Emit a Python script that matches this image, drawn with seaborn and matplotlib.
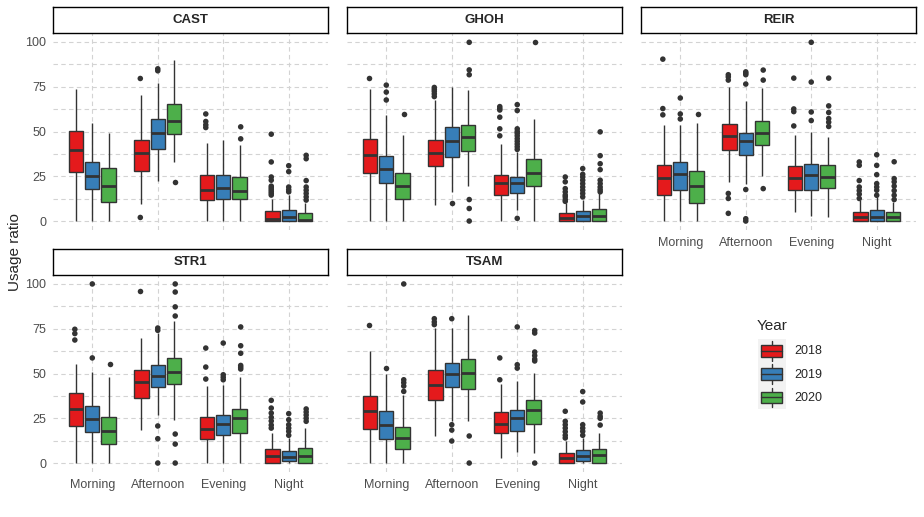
import matplotlib
matplotlib.use('Agg')
import matplotlib.pyplot as plt
import pandas as pd
import seaborn as sns
from matplotlib.legend_handler import HandlerBase
from matplotlib.lines import Line2D
from matplotlib.patches import Patch, Rectangle

times = ['Morning', 'Afternoon', 'Evening', 'Night']
years = ['2018', '2019', '2020']
colors = ['#E41A1C', '#377EB8', '#4DAF4A']

# box stats per (time, year): (whisker low, q1, median, q3, whisker high)
cast_stats = [
    (0, 27.4, 39.6, 50.4, 73.9), (0, 18.1, 25.2, 33.1, 55.0), (0, 10.9, 19.6, 29.8, 49.1),
    (9.6, 28.1, 38.0, 45.4, 70.6), (22.2, 40.4, 49.1, 57.0, 77.2), (33.0, 48.7, 55.7, 65.2, 90.0),
    (0, 12.0, 17.4, 25.9, 43.7), (0, 12.4, 18.5, 25.9, 45.0), (0, 12.4, 16.9, 24.8, 42.2),
    (0, 0, 1.3, 5.4, 12.2), (0, 0, 2.4, 5.9, 14.8), (0, 0, 0.6, 4.4, 10.0),
]
cast_out = [
    [], [], [],
    [79.6, 2.0], [85.0, 83.9], [21.9],
    [59.8, 55.6, 53.7, 52.2], [], [52.6, 45.9],
    [48.5, 33.0, 24.6, 22.8, 19.5, 18.5, 17.5, 16.5, 15.5, 14.5],
    [30.9, 27.6, 19.0, 17.5, 16.3],
    [36.7, 34.8, 22.6, 19.0, 17.2, 15.4, 13.5, 11.7],
]

ghoh_stats = [
    (0, 27.0, 36.9, 45.9, 73.9), (0, 21.5, 28.9, 36.5, 59.3), (0, 12.4, 19.6, 26.9, 47.8),
    (9.1, 30.9, 37.8, 45.4, 67.6), (16.1, 35.9, 44.6, 52.6, 75.0), (19.6, 39.1, 46.9, 53.7, 73.1),
    (0, 14.8, 21.3, 25.9, 42.8), (6.1, 15.4, 21.3, 24.6, 38.5), (0, 19.8, 26.9, 34.6, 57.0),
    (0, 0, 1.5, 4.3, 9.8), (0, 0, 3.0, 5.4, 12.0), (0, 0, 3.0, 6.5, 15.4),
]
ghoh_out = [
    [79.8], [75.9, 72.0, 67.6], [59.8],
    [74.6, 73.5, 72.4, 71.0, 69.5], [9.8], [99.8, 84.4, 81.7, 12.0, 7.0, 0.0],
    [63.9, 62.8, 62.0, 58.0, 51.5, 47.6],
    [65.0, 61.7, 51.5, 50.0, 49.0, 47.6, 46.0, 44.5, 43.0, 41.5, 40.0, 1.5],
    [99.8],
    [24.6, 21.9, 18.1, 16.3, 14.5, 13.5, 12.0, 11.0],
    [29.3, 26.1, 24.6, 22.8, 20.9, 19.0, 17.2, 15.4, 13.5],
    [49.8, 36.5, 32.0, 28.7, 22.8, 20.9, 19.0, 17.5, 16.3],
]

reir_stats = [
    (0, 14.8, 23.9, 31.5, 53.9), (0, 17.6, 26.3, 33.1, 53.9), (0, 9.8, 19.6, 28.1, 54.8),
    (21.7, 39.8, 47.4, 54.3, 75.0), (20.6, 37.0, 44.6, 49.3, 67.2), (25.2, 42.6, 49.4, 55.9, 74.4),
    (5.2, 17.6, 23.9, 30.9, 47.8), (3.0, 17.6, 25.7, 32.0, 49.6), (2.4, 18.7, 24.6, 31.5, 47.2),
    (0, 0, 2.4, 4.8, 11.7), (0, 0, 2.4, 5.9, 13.5), (0, 0, 2.4, 4.8, 10.7),
]
reir_out = [
    [90.4, 62.8, 59.3], [68.7, 59.8, 57.0], [59.8],
    [81.7, 80.5, 78.7, 15.4, 12.6, 4.3], [83.3, 82.5, 81.7, 76.5, 17.6, 1.3, 0.0], [84.3, 78.7, 18.1],
    [79.8, 62.6, 61.1, 53.1], [99.8, 77.6, 60.9, 56.1], [79.8, 64.3, 60.6, 57.2, 55.2, 52.8],
    [33.0, 31.1, 22.6, 19.0, 17.0, 15.0, 12.6],
    [37.0, 31.1, 25.9, 20.9, 19.0, 17.2, 14.4],
    [33.1, 23.7, 21.9, 19.5, 17.0, 14.4, 12.0],
]

str1_stats = [
    (0, 20.5, 30.0, 39.1, 55.5), (0, 17.3, 24.4, 31.7, 51.0), (0, 10.6, 17.7, 25.5, 48.0),
    (18.2, 36.3, 45.1, 51.8, 69.8), (27.0, 42.5, 48.4, 54.6, 72.6), (24.0, 44.1, 50.7, 58.5, 79.5),
    (0, 13.4, 19.0, 25.5, 43.2), (0, 15.5, 22.0, 26.6, 43.8), (0, 16.6, 25.0, 30.2, 48.0),
    (0, 0, 3.9, 7.8, 16.8), (0, 1.3, 3.4, 6.7, 14.0), (0, 0, 3.9, 8.4, 19.5),
]
str1_out = [
    [74.7, 72.3, 68.7], [100.0, 58.7], [55.5],
    [96.1], [75.4, 74.1, 20.7, 13.6, 0.0], [100.0, 95.5, 87.2, 82.1, 16.2, 10.6, 0.0],
    [64.2, 53.6, 46.9], [67.0, 49.3, 47.9, 46.5], [76.0, 65.5, 61.3, 54.5, 53.5, 52.5],
    [35.0, 30.7, 27.9, 25.5, 23.5, 21.2, 19.5],
    [27.6, 24.2, 21.4, 19.5, 17.7, 15.5],
    [30.2, 28.5, 26.8, 25.0, 23.3],
]

tsam_stats = [
    (0, 19.0, 28.9, 37.4, 62.8), (0, 13.4, 21.4, 29.0, 49.9), (0, 7.8, 13.8, 19.9, 38.0),
    (14.9, 35.2, 43.4, 52.0, 75.4), (23.6, 42.5, 49.5, 55.9, 75.4), (23.3, 41.3, 50.1, 58.1, 82.9),
    (2.6, 16.8, 21.6, 28.5, 44.0), (6.0, 17.9, 25.0, 29.6, 46.0), (5.4, 21.8, 29.4, 35.2, 50.5),
    (0, 0, 2.6, 5.6, 12.1), (0, 0.9, 3.9, 7.1, 14.0), (0, 0, 4.3, 7.8, 16.8),
]
tsam_out = [
    [77.1], [53.1], [100.0, 46.5, 44.9, 43.0, 40.0],
    [80.6, 78.8, 77.3], [80.6, 21.4, 18.4, 12.3], [15.1, 0.0],
    [58.7, 46.5], [76.0, 54.9, 53.0], [74.0, 72.6, 62.0, 60.0, 58.0, 57.0, 0.0],
    [28.9, 23.3, 21.4, 19.5, 17.5, 15.5, 14.0],
    [39.9, 34.1, 21.4, 19.5, 17.7, 15.5],
    [27.9, 26.1, 25.0, 21.2],
]

sites = {
    'CAST': (cast_stats, cast_out),
    'GHOH': (ghoh_stats, ghoh_out),
    'REIR': (reir_stats, reir_out),
    'STR1': (str1_stats, str1_out),
    'TSAM': (tsam_stats, tsam_out),
}


def to_frames(stats, outliers):
    box_rows, out_rows = [], []
    for i, (s, o) in enumerate(zip(stats, outliers)):
        t, y = times[i // 3], years[i % 3]
        box_rows += [(t, y, v) for v in s]
        out_rows += [(t, y, v) for v in o]
    cols = ['time', 'year', 'value']
    return pd.DataFrame(box_rows, columns=cols), pd.DataFrame(out_rows, columns=cols)


class BoxKey(HandlerBase):
    def create_artists(self, legend, orig_handle, xd, yd, width, height, fontsize, trans):
        x0, y0 = -xd, -yd
        bg = Rectangle((x0, y0), width, height, facecolor='#F2F2F2', edgecolor='none',
                       transform=trans)
        cx = x0 + width / 2
        wh = Line2D([cx, cx], [y0 + height * 0.08, y0 + height * 0.92], color='#333333',
                    lw=1.0, transform=trans)
        box = Rectangle((x0 + width * 0.12, y0 + height * 0.25), width * 0.76, height * 0.5,
                        facecolor=orig_handle.get_facecolor(), edgecolor='#333333', lw=1.0,
                        transform=trans)
        med = Line2D([x0 + width * 0.12, x0 + width * 0.88], [y0 + height / 2] * 2,
                     color='#333333', lw=1.0, transform=trans)
        return [bg, wh, box, med]


sns.set_style('white')
plt.rcParams['font.family'] = ['Liberation Sans', 'DejaVu Sans']

W, H = 924, 517
fig = plt.figure(figsize=(W / 100, H / 100), dpi=100)

col_x = [53, 347, 641]
panel_w = 275
rows = [(7, 33, 230), (249, 275, 472)]  # strip top, panel top, panel bottom
layout = {'CAST': (0, 0), 'GHOH': (0, 1), 'REIR': (0, 2), 'STR1': (1, 0), 'TSAM': (1, 1)}

for site, (r, c) in layout.items():
    stats, outs = sites[site]
    box_df, out_df = to_frames(stats, outs)
    st, pt, pb = rows[r]
    x0 = col_x[c]
    ax = fig.add_axes([x0 / W, 1 - pb / H, panel_w / W, (pb - pt) / H])
    sax = fig.add_axes([x0 / W, 1 - pt / H, panel_w / W, (pt - st) / H])

    sns.boxplot(data=box_df, x='time', y='value', hue='year', order=times, hue_order=years,
                palette=colors, saturation=1, whis=(0, 100), width=0.75, gap=0.12,
                linecolor='#333333', linewidth=1.0, showcaps=False, fliersize=0,
                medianprops=dict(linewidth=2.0), legend=False, ax=ax)
    sns.stripplot(data=out_df, x='time', y='value', hue='year', order=times, hue_order=years,
                  palette={y: '#333333' for y in years}, dodge=True, jitter=False, size=4,
                  linewidth=0, legend=False, ax=ax)

    ax.set_xlim(-0.6, 3.6)
    ax.set_ylim(-5, 105)
    ax.set_yticks([0, 25, 50, 75, 100])
    ax.set_yticks([12.5, 37.5, 62.5, 87.5], minor=True)
    ax.set_axisbelow(True)
    ax.grid(which='both', axis='y', color='#D3D3D3', lw=0.8, ls=(0, (4, 3)))
    ax.grid(which='major', axis='x', color='#D3D3D3', lw=0.8, ls=(0, (4, 3)))
    ax.set_xlabel('')
    ax.set_ylabel('')
    for sp in ax.spines.values():
        sp.set_visible(False)
    ax.tick_params(which='minor', length=0)
    ax.tick_params(which='major', colors='#333333', length=3, width=0.8,
                   labelcolor='#4D4D4D', labelsize=9, pad=2)
    if c != 0:
        ax.tick_params(axis='y', left=False, labelleft=False)
    if site in ('CAST', 'GHOH'):
        ax.tick_params(axis='x', bottom=False, labelbottom=False)

    sax.set_xticks([])
    sax.set_yticks([])
    sax.set_facecolor('white')
    for sp in sax.spines.values():
        sp.set_visible(True)
        sp.set_color('black')
        sp.set_linewidth(1.0)
    sax.text(0.5, 0.5, site, ha='center', va='center', fontsize=9.5, fontweight='bold',
             transform=sax.transAxes)

fig.text(15 / W, 1 - 252 / H, 'Usage ratio', rotation=90, ha='center', va='center', fontsize=11)

# legend in the empty sixth slot
fig.text(757 / W, 1 - 326 / H, 'Year', ha='left', va='center', fontsize=11)
handles = [Patch(facecolor=col) for col in colors]
fig.legend(handles, years, handler_map={Patch: BoxKey()}, loc='upper left',
           bbox_to_anchor=(758 / W, 1 - 339 / H), frameon=False, fontsize=9,
           handlelength=2.2, handleheight=2.5, labelspacing=0.0, handletextpad=0.7,
           borderpad=0, borderaxespad=0)

fig.savefig('out.png', dpi=100, facecolor='white')
